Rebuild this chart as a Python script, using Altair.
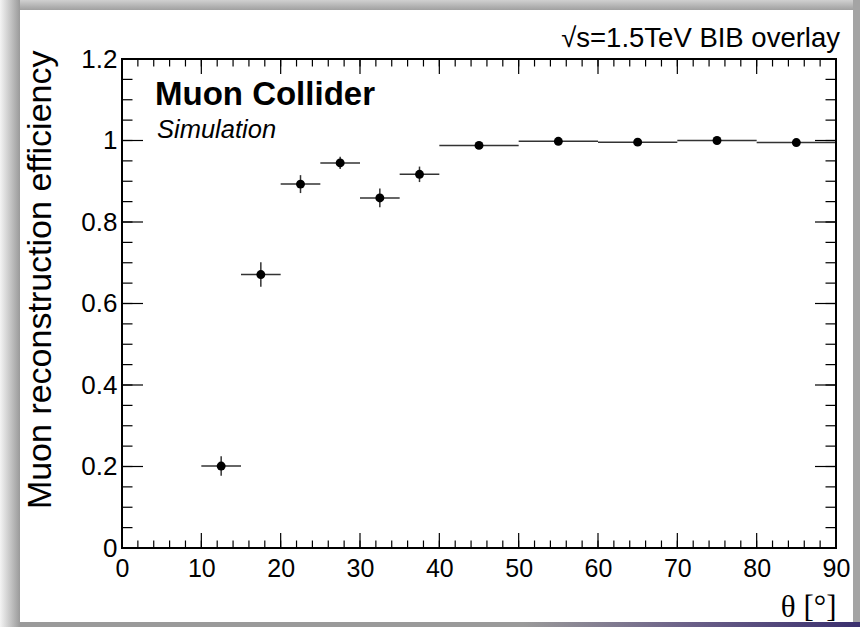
import altair as alt
import pandas as pd

# ---- data ----
bin_lo = [10, 15, 20, 25, 30, 35, 40, 50, 60, 70, 80]
bin_hi = [15, 20, 25, 30, 35, 40, 50, 60, 70, 80, 90]
eff = [0.201, 0.671, 0.893, 0.945, 0.859, 0.917, 0.988, 0.998, 0.996, 1.000, 0.995]
err = [0.024, 0.030, 0.022, 0.015, 0.023, 0.019, 0.004, 0.003, 0.003, 0.003, 0.003]

x_major = [0, 10, 20, 30, 40, 50, 60, 70, 80, 90]
x_minor = [0, 2, 4, 6, 8, 10, 12, 14, 16, 18, 20, 22, 24, 26, 28, 30, 32, 34, 36, 38,
           40, 42, 44, 46, 48, 50, 52, 54, 56, 58, 60, 62, 64, 66, 68, 70, 72, 74, 76,
           78, 80, 82, 84, 86, 88, 90]
y_major = [0, 0.2, 0.4, 0.6, 0.8, 1.0, 1.2]
y_minor = [0, 0.05, 0.1, 0.15, 0.2, 0.25, 0.3, 0.35, 0.4, 0.45, 0.5, 0.55, 0.6, 0.65,
           0.7, 0.75, 0.8, 0.85, 0.9, 0.95, 1.0, 1.05, 1.1, 1.15, 1.2]

x_title = "θ [°]"
y_title = "Muon reconstruction efficiency"
label_main = "Muon Collider"
label_sub = "Simulation"
label_energy = "√s=1.5TeV BIB overlay"

W, H = 714, 489
SANS = "Liberation Sans"
SERIF = "Liberation Serif"

df = pd.DataFrame({
    "lo": bin_lo,
    "hi": bin_hi,
    "center": [(a + b) / 2 for a, b in zip(bin_lo, bin_hi)],
    "eff": eff,
    "low": [e - d for e, d in zip(eff, err)],
    "high": [e + d for e, d in zip(eff, err)],
})
one = pd.DataFrame({"k": [0]})

xscale = alt.Scale(domain=[0, 90], nice=False, zero=False)
yscale = alt.Scale(domain=[0, 1.2], nice=False, zero=False)

xaxis = alt.Axis(values=x_major, format="d", title=x_title, grid=False, domain=False,
                 ticks=False, tickSize=0, labelPadding=8, labelFont=SANS, labelFontSize=25,
                 labelColor="black", labelOverlap=False, labelBound=False, labelFlush=False,
                 titleFont=SERIF, titleFontSize=31,
                 titleFontWeight="normal", titleColor="black", titleAlign="right",
                 titleAnchor="end", titleX=W, titleY=68, titleBaseline="alphabetic",
                 zindex=2)
yaxis = alt.Axis(values=y_major, format="~g", title=y_title, grid=False, domain=False,
                 ticks=False, tickSize=0, labelPadding=5, labelFont=SANS, labelFontSize=26,
                 labelColor="black", labelOverlap=False, labelBound=False, labelFlush=False,
                 titleFont=SANS, titleFontSize=34,
                 titleFontWeight="normal", titleColor="black", titleAngle=270,
                 titleAlign="right", titleAnchor="end", titleX=-72, titleY=-9,
                 titleBaseline="alphabetic", zindex=2)


def X(field):
    return alt.X(f"{field}:Q", scale=xscale, axis=xaxis)


def Y(field):
    return alt.Y(f"{field}:Q", scale=yscale, axis=yaxis)


def grad(x2, y2, stops):
    return alt.LinearGradient(
        gradient="linear", x1=0, y1=0, x2=x2, y2=y2,
        stops=[alt.GradientStop(offset=o, color=c) for o, c in stops])


# ---- grey window border (decoration) ----
left_shade = alt.Chart(one).mark_rect(
    fill=grad(1, 0, [(0, "#f4f4f4"), (1, "#9a9a9a")])
).encode(x=alt.value(-122), x2=alt.value(-102), y=alt.value(-59), y2=alt.value(568))
top_shade = alt.Chart(one).mark_rect(
    fill=grad(0, 1, [(0, "#d0d0d0"), (1, "#a0a0a0")])
).encode(x=alt.value(-102), x2=alt.value(738), y=alt.value(-59), y2=alt.value(-49))
right_shade = alt.Chart(one).mark_rect(fill="#a4a4a4").encode(
    x=alt.value(731), x2=alt.value(738), y=alt.value(-59), y2=alt.value(568))
bottom_shade = alt.Chart(one).mark_rect(
    fill=grad(1, 0, [(0, "#9a9a9a"), (0.6, "#9a9a9a"), (0.8, "#6a5f88"), (1, "#3a2f6e")])
).encode(x=alt.value(-102), x2=alt.value(738), y=alt.value(563), y2=alt.value(568))

# ---- plot frame ----
frame = alt.Chart(one).mark_rect(fill=None, stroke="black", strokeWidth=2).encode(
    x=alt.value(0), x2=alt.value(W), y=alt.value(0), y2=alt.value(H))

# ---- data marks ----
hbars = alt.Chart(df).mark_rule(color="#333333", strokeWidth=1.5).encode(
    x=X("lo"), x2="hi:Q", y=Y("eff"))
vbars = alt.Chart(df).mark_rule(color="#333333", strokeWidth=1.5).encode(
    x=X("center"), y=Y("low"), y2="high:Q")
points = alt.Chart(df).mark_circle(color="black", opacity=1, size=80).encode(
    x=X("center"), y=Y("eff"))

# ---- ROOT-style inward ticks on all four sides ----
dxmaj = pd.DataFrame({"v": x_major})
dxmin = pd.DataFrame({"v": x_minor})
dymaj = pd.DataFrame({"v": y_major})
dymin = pd.DataFrame({"v": y_minor})
tk = dict(color="black", strokeWidth=1.2)

ticks = [
    alt.Chart(dxmin).mark_rule(**tk).encode(x=X("v"), y=alt.value(H), y2=alt.value(H - 7.5)),
    alt.Chart(dxmaj).mark_rule(**tk).encode(x=X("v"), y=alt.value(H), y2=alt.value(H - 15)),
    alt.Chart(dxmin).mark_rule(**tk).encode(x=X("v"), y=alt.value(0), y2=alt.value(7.5)),
    alt.Chart(dxmaj).mark_rule(**tk).encode(x=X("v"), y=alt.value(0), y2=alt.value(15)),
    alt.Chart(dymin).mark_rule(**tk).encode(y=Y("v"), x=alt.value(0), x2=alt.value(10.5)),
    alt.Chart(dymaj).mark_rule(**tk).encode(y=Y("v"), x=alt.value(0), x2=alt.value(21)),
    alt.Chart(dymin).mark_rule(**tk).encode(y=Y("v"), x=alt.value(W), x2=alt.value(W - 10.5)),
    alt.Chart(dymaj).mark_rule(**tk).encode(y=Y("v"), x=alt.value(W), x2=alt.value(W - 21)),
]

# ---- labels ----
t_main = alt.Chart(one).mark_text(font=SANS, fontSize=33, fontWeight="bold", align="left",
                                  baseline="alphabetic", color="black").encode(
    x=alt.value(33), y=alt.value(46), text=alt.value(label_main))
t_sub = alt.Chart(one).mark_text(font=SANS, fontSize=25.5, fontStyle="italic", align="left",
                                 baseline="alphabetic", color="black").encode(
    x=alt.value(35), y=alt.value(79), text=alt.value(label_sub))
t_energy = alt.Chart(one).mark_text(font=SANS, fontSize=27.5, align="right",
                                    baseline="alphabetic", color="black").encode(
    x=alt.value(718), y=alt.value(-12), text=alt.value(label_energy))

chart = alt.layer(
    left_shade, top_shade, right_shade, bottom_shade,
    hbars, vbars, points, *ticks, frame, t_main, t_sub, t_energy
).properties(
    width=W, height=H,
    padding={"left": 122, "top": 59, "right": 24, "bottom": 79},
    autosize=alt.AutoSizeParams(type="none"),
    background="white",
).configure_view(stroke="black", strokeWidth=2)

chart.save("out.html", embed_options={"renderer": "svg", "actions": False})
